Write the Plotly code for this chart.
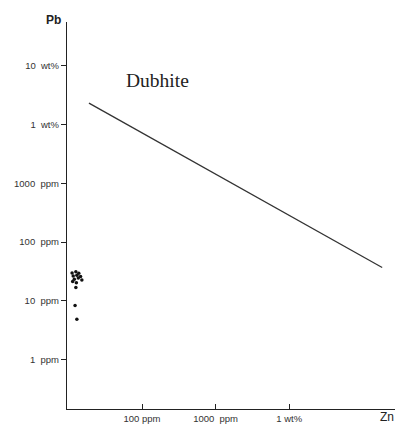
import plotly.graph_objects as go

# Data (ppm)
zn_samples = [11.2, 12.6, 13.8, 11.6, 13.0, 14.6, 15.2, 12.0, 11.4, 13.6, 12.8, 12.6, 12.3, 13.0]
pb_samples = [30.0, 31.5, 29.5, 26.5, 27.5, 26.0, 22.8, 23.5, 21.5, 24.5, 20.5, 17.0, 8.4, 4.9]

dubhite_zn = [19, 184000]
dubhite_pb = [23000, 37]

y_tickvals = [1, 10, 100, 1000, 10000, 100000]
y_ticktext = ["1  ppm", "10  ppm", "100  ppm", "1000  ppm", "1  wt%", "10  wt%"]
x_tickvals = [100, 1000, 10000]
x_ticktext = ["100 ppm", "1000  ppm", "1 wt%"]

# page body has an 8px margin, so work in page pixels minus 8
OFF = 8
W, H = 403 - OFF, 426 - OFF
L, T = 67 - OFF, 22 - OFF
R = W - (398 - OFF)
B = H - (409 - OFF)
PW, PH = W - L - R, H - T - B

def px(x):
    return (x - OFF - L) / PW

def py(y):
    return (H - B - (y - OFF)) / PH

fig = go.Figure()
fig.add_trace(go.Scatter(x=dubhite_zn, y=dubhite_pb, mode="lines",
                         line=dict(color="#333333", width=1.3), showlegend=False))
fig.add_trace(go.Scatter(x=zn_samples, y=pb_samples, mode="markers",
                         marker=dict(color="#111111", size=3.5), showlegend=False))

fig.update_layout(
    width=W, height=H,
    margin=dict(l=L, r=R, t=T, b=B, autoexpand=False),
    paper_bgcolor="white", plot_bgcolor="white",
    font=dict(family="Liberation Sans, Arial, sans-serif", size=9.5, color="#333333"),
    xaxis=dict(type="log", range=[0.98, 5.48], showgrid=False, zeroline=False,
               showline=True, linecolor="#222222", linewidth=1.3,
               ticks="inside", ticklen=5, tickcolor="#222222", automargin=False,
               tickvals=x_tickvals, ticktext=x_ticktext),
    yaxis=dict(type="log", range=[-0.835, 5.74], showgrid=False, zeroline=False,
               showline=True, linecolor="#222222", linewidth=1.3,
               ticks="outside", ticklen=5, tickcolor="#222222", automargin=False,
               tickvals=y_tickvals, ticktext=y_ticktext),
    annotations=[
        dict(text="Dubhite", x=px(157), y=py(80), xref="paper", yref="paper",
             showarrow=False, xanchor="center", yanchor="middle",
             font=dict(family="Liberation Serif, Times New Roman, serif", size=19.5, color="#222222")),
        dict(text="<b>Pb</b>", x=px(53), y=py(20), xref="paper", yref="paper", showarrow=False,
             xanchor="center", yanchor="middle", font=dict(size=12, color="#222222")),
        dict(text="Zn", x=px(378), y=py(417), xref="paper", yref="paper", showarrow=False,
             xanchor="left", yanchor="middle", font=dict(size=12, color="#222222")),
    ],
)
fig.write_html("out.html")
